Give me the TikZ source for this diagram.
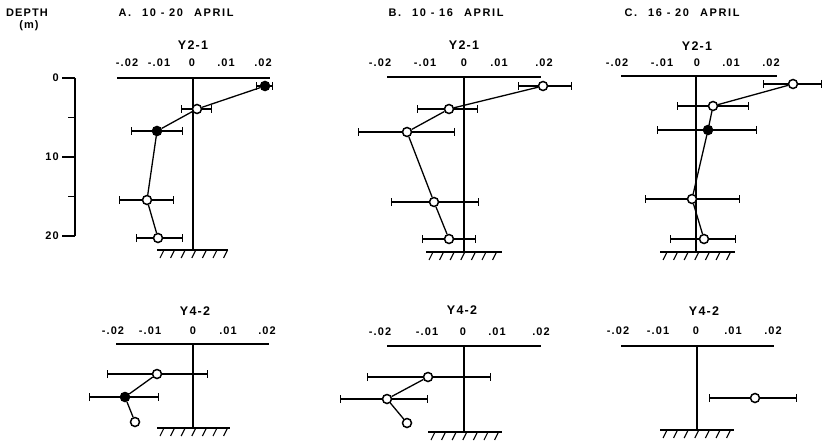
\documentclass[tikz,border=0pt]{standalone}
\usepackage{fontspec}
\setmainfont[LetterSpace=10]{Liberation Sans}
\newfontfamily\titlefont[LetterSpace=15]{Liberation Sans}
\usetikzlibrary{arrows.meta}
\begin{document}
\begin{tikzpicture}[x=1pt,y=-1pt,font=\bfseries\fontsize{11}{13}\selectfont]
  \tikzstyle{axis}=[line width=1.3pt]
  \tikzstyle{obs}=[circle,draw,fill=white,line width=1.5pt,minimum size=9pt,inner sep=0pt]
  \tikzstyle{obsfill}=[obs,fill=black]
  \tikzstyle{errbar}=[line width=1.1pt,{Bar[width=8pt]}-{Bar[width=8pt]}]
  \tikzstyle{title}=[anchor=west,font=\titlefont\bfseries\fontsize{11}{13}\selectfont]
  \tikzstyle{station}=[font=\bfseries\fontsize{12.5}{14}\selectfont]
  \useasboundingbox (0,0) rectangle (824,441);
  % headings
  \node (depth) at (27,13) {DEPTH};
  \node (unit) at (29,26) {(m)};
  \node[title] (titleA) at (115,13) {A.\quad 10 - 20\quad APRIL};
  \node[title] (titleB) at (385,13) {B.\quad 10 - 16\quad APRIL};
  \node[title] (titleC) at (621,13) {C.\quad 16 - 20\quad APRIL};
  % depth scale
  \coordinate (d0) at (75,78);
  \coordinate (d20) at (75,236);
  \draw[axis] (d0) -- (d20);
  \foreach \d in {0,10,20} {
    \draw[axis] (62,78+7.9*\d) -- (75,78+7.9*\d);
    \node[left,inner sep=1pt] (depth\d) at (60,78+7.9*\d) {\d};
  }
  \foreach \d in {5,15}
    \draw[axis] (68,78+7.9*\d) -- (75,78+7.9*\d);
  % panels: name/zero/top/left/right/bed/hatch from/hatch to
  \foreach \p/\z/\t/\a/\b/\g/\h/\k in {A/193/78/117/270/250/157/228,
      B/464/77/387/541/252/426/502, C/696/76/621/777/252/660/735,
      a/193/344/116/269/428/157/230, b/464/346/387/541/432/428/502,
      c/697/346/621/774/430/660/734} {
    \coordinate (\p top) at (\z,\t);
    \coordinate (\p bed) at (\z,\g);
    \draw[axis] (\a,\t) -- (\b,\t);
    \draw[axis] (\p top) -- (\p bed);
    \draw[axis] (\h,\g) -- (\k,\g);
    \foreach \i in {0,...,6}
      \draw[line width=1.1pt] (\h+7+10.6*\i,\g) -- ++(-4,8);
  }
  % station names and scales
  \foreach \p/\s/\x/\y/\v/\l/\m/\n/\o/\q in {A/Y2-1/193/45/63/127/159/192/226/263,
      B/Y2-1/464/45/63/380/425/464/499/544, C/Y2-1/697/46/63/617/662/697/731/771,
      a/Y4-2/195/311/331/113/150/193/228/267, b/Y4-2/462/310/332/380/427/463/497/541,
      c/Y4-2/704/311/331/618/658/696/733/773} {
    \node[station] (\p name) at (\x,\y) {\s};
    \node (\p m2) at (\l,\v) {-.02};
    \node (\p m1) at (\m,\v) {-.01};
    \node (\p z) at (\n,\v) {0};
    \node (\p p1) at (\o,\v) {.01};
    \node (\p p2) at (\q,\v) {.02};
  }
  % observations with error bars
  \foreach \n/\x/\y/\l/\r/\s in {A1/265/86/256/273/obsfill, A2/197/109/181/212/obs,
      A3/157/131/131/183/obsfill, A4/147/200/119/174/obs, A5/158/238/136/183/obs,
      B1/543/86/518/572/obs, B2/449/109/417/478/obs, B3/407/132/358/455/obs,
      B4/434/202/391/479/obs, B5/449/239/422/476/obs,
      C1/793/84/763/822/obs, C2/713/106/677/749/obs, C3/708/130/657/757/obsfill,
      C4/692/199/645/740/obs, C5/704/239/670/736/obs,
      a1/157/374/107/208/obs, a2/125/397/89/159/obsfill,
      b1/428/377/367/491/obs, b2/387/399/340/428/obs,
      c1/755/398/709/797/obs} {
    \coordinate (\n l) at (\l,\y);
    \coordinate (\n r) at (\r,\y);
    \draw[errbar] (\n l) -- (\n r);
    \node[\s] (\n) at (\x,\y) {};
  }
  \node[obs] (a3) at (135,422) {};
  \node[obs] (b3) at (407,423) {};
  % profiles
  \draw[axis] (A1) -- (A2) -- (A3) -- (A4) -- (A5);
  \draw[axis] (B1) -- (B2) -- (B3) -- (B4) -- (B5);
  \draw[axis] (C1) -- (C2) -- (C3) -- (C4) -- (C5);
  \draw[axis] (a1) -- (a2) -- (a3);
  \draw[axis] (b1) -- (b2) -- (b3);
\end{tikzpicture}
\end{document}
